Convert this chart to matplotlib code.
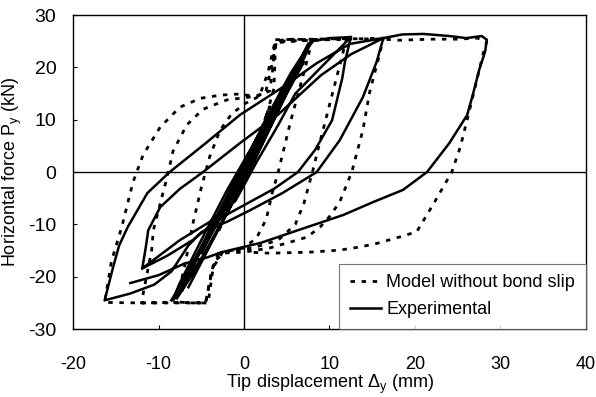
import numpy as np
import matplotlib
matplotlib.use('Agg')
import matplotlib.pyplot as plt

plt.rcParams['font.family'] = ['Liberation Sans', 'DejaVu Sans']
plt.rcParams['mathtext.fontset'] = 'custom'
plt.rcParams['mathtext.rm'] = 'Liberation Sans'
plt.rcParams['mathtext.it'] = 'Liberation Sans:italic'
plt.rcParams['axes.unicode_minus'] = False

nan = np.nan

# experimental curve (tip displacement mm, force kN), nan = pen up
exp_x = [0, 1.5, 3, 2.4, 0, -1.5, -3, -2.4, 0,
         2.5, 5, 4.3, 1, -2, -5, -4.3, -1,
         2, 5, 7.8, 7.1, 4.5, 1, -2, -5, -8.3, -7.6, -5, -2, 1, 4, 6.5, 8,
         10, 12.5, 11.8, 11.5, 10.3, 8.3, 6.3, 3.5, 0.7, -3, -6, -9, -11.9,
         -11.5, -11.2, -9.8, -7.5, -4.8, -0.5, 4, 9, 12.5, 16.3,
         15.5, 13.9, 11.2, 8.5, 4.5, 0.7, -2, -5, -6.5, -8.5, -10.5, -13.3, -16.3,
         -15.3, -14.6, -13.6, -11.3, -8.7, -4.5, -0.5, 4.6, 8.5, 12.4, 16.3,
         18.5, 21, 24, 26, 27.8, 28.4, 28.2, 27.5, 26.8, 26.1, 24, 21.4, 18.6,
         15, 11.6, 6.5, 2, -2.6,
         nan, -13.3, -10, -7, -4.3, -2.6,
         nan, -11.9, -7.5, -4, -1, 1.5, 4, 6, 9, 12.5,
         nan, -8, -6.5, -4, -1.5, 1, 3.5, 5.5, 7.5,
         nan, -7.2, -5.5, -3, -0.5, 2, 4.5, 6.8,
         nan, -8.5, -4, 0, 4, 7.5,
         nan, -7.8, -5, -1, 3, 7,
         nan, -6.5, -3, 1, 5, 7]
exp_y = [0, 5, 10, 8, 0.5, -4.5, -9, -7, 0,
         8.5, 16, 13, 2.5, -6.5, -15.5, -12.5, -2.5,
         7, 17, 25, 22, 13.5, 1.5, -8, -16.5, -24.5, -21.5, -13, -3.5, 5, 14, 21, 25,
         25.6, 25.8, 21, 18, 9.9, 4.2, 0, -3.2, -5.7, -9, -13, -16, -18.4,
         -14.5, -11.1, -6.7, -3.2, 0, 5.5, 11, 18.5, 22.5, 25.6,
         21, 14.3, 6.1, 0, -4, -7.3, -9.5, -11.5, -14, -19, -21.5, -23.2, -24.5,
         -18.1, -14, -10.5, -4, 0, 5.5, 10.9, 16.3, 20.8, 24.5, 25.6,
         26.3, 26.4, 26, 25.6, 26, 25.3, 23, 19.5, 15, 10.9, 5.5, 0, -3.4,
         -5.8, -8.2, -11, -13.5, -15.3,
         nan, -21.2, -19.7, -17.5, -16.3, -15.3,
         nan, -18.4, -13, -9.5, -5.5, 2, 9, 15, 20, 25.8,
         nan, -24, -19, -11, -3, 5, 13, 19, 24,
         nan, -22.5, -16.5, -8.5, -0.5, 7.5, 15, 22,
         nan, -24.5, -12, 0, 13, 24.5,
         nan, -24, -17, -4.5, 9, 22.5,
         nan, -22, -11, 1.5, 15, 21]

# model without bond slip
mod_x = [0, 2, 3, 2.2, 0, -2, -3, -2.2, 0,
         2.5, 3.5, 3.7, 5, 8,
         7, 5.5, 4, 3.3, 2.6, 1.5, 0, -2.5, -3.6, -4.2, -6, -8,
         -7, -6, -5, -4, -2.8, -1.5, 0, 1.8, 2.8, 3.6, 8, 10, 12,
         10.5, 9, 8, 7, 6, 4, 1, -2, -3.5, -4, -4.5, -8, -12,
         -10.8, -10.6, -9.8, -9, -8.3, -6.7, -4.8, -2, 0.5, 2.5, 3.2, 3.8, 8, 12, 16.3,
         15.9, 14.7, 13.9, 12.6, 11.2, 10, 8.9, 7.4, 6.2, 3, 0, -3, -3.8, -4.5, -8, -12, -16.3,
         -15.5, -14.3, -13, -11.8, -9.8, -7.5, -5.1, -2.8, -0.8, 1.5, 3, 3.4, 3.6,
         8, 12, 16.3, 18.2, 22, 25, 27.3, 28.4,
         28, 27, 26.1, 25.3, 24.3, 22.3, 20.2, 18.2, 15.6, 13.6, 11.2, 7.7, 3, 0.7]
mod_y = [0, 8, 12.5, 9, 0.5, -7, -11.5, -8, 0,
         10, 16, 25, 25.4, 25.3,
         19, 10, 0, -4, -9, -12.5, -14.5, -15.3, -18.2, -25, -25, -24.8,
         -18.5, -10, -3, 3, 8, 11, 13, 14.5, 19, 24.7, 25.3, 25.4, 25.5,
         16, 6.5, 0, -6, -10, -13, -14.5, -15.2, -17, -21, -25, -24.9, -25,
         -14.9, -11.1, -6, -1, 4, 9, 12, 13.8, 14.3, 15, 20, 25, 25.2, 25.4, 25.6,
         22.8, 15.3, 8, 0, -5.7, -8.5, -10.5, -12.4, -13, -14.5, -15.3, -15.5, -19, -25, -25, -25, -24.9,
         -17, -10.5, -2, 3.3, 8.6, 12.4, 14.1, 14.7, 14.9, 14.5, 15.5, 20, 25.3,
         25.4, 25.5, 25.4, 25.2, 25.4, 25.4, 25.6, 25,
         22.8, 16, 10, 4.8, 0, -5.7, -11.4, -12.4, -13.6, -14.3, -14.9, -15.3, -15.5, -15.3]

fig = plt.figure(figsize=(5.96, 3.97), dpi=100)
ax = fig.add_axes([0.1225, 0.171, 0.8607, 0.791])

ax.axhline(0, color='k', lw=1.0, zorder=1)
ax.axvline(0, color='k', lw=1.0, zorder=1)

ax.plot(mod_x, mod_y, color='k', lw=2.0, ls=(0, (1.6, 2.4)),
        label='Model without bond slip', zorder=2)
ax.plot(exp_x, exp_y, color='k', lw=1.8, label='Experimental', zorder=3)

ax.set_xlim(-20, 40)
ax.set_ylim(-30, 30)
ax.set_xticks([-20, -10, 0, 10, 20, 30, 40])
ax.set_yticks([-30, -20, -10, 0, 10, 20, 30])
ax.tick_params(axis='x', direction='in', length=3, labelsize=13, pad=19)
ax.tick_params(axis='y', direction='in', length=3, labelsize=14, pad=12)
for s in ax.spines.values():
    s.set_linewidth(1.0)

ax.set_xlabel(r'Tip displacement $\Delta_{\mathrm{y}}$ (mm)', fontsize=13, labelpad=0)
ax.set_ylabel(r'Horizontal force P$_{\mathrm{y}}$ (kN)', fontsize=13, labelpad=3)

leg = ax.legend(loc='lower right', fontsize=13, handlelength=1.7, handletextpad=0.3,
                borderaxespad=0, borderpad=0.6, labelspacing=0.55, fancybox=False)
leg.get_frame().set_edgecolor('#555555')
leg.get_frame().set_linewidth(0.8)

fig.savefig('out.png', dpi=100)
